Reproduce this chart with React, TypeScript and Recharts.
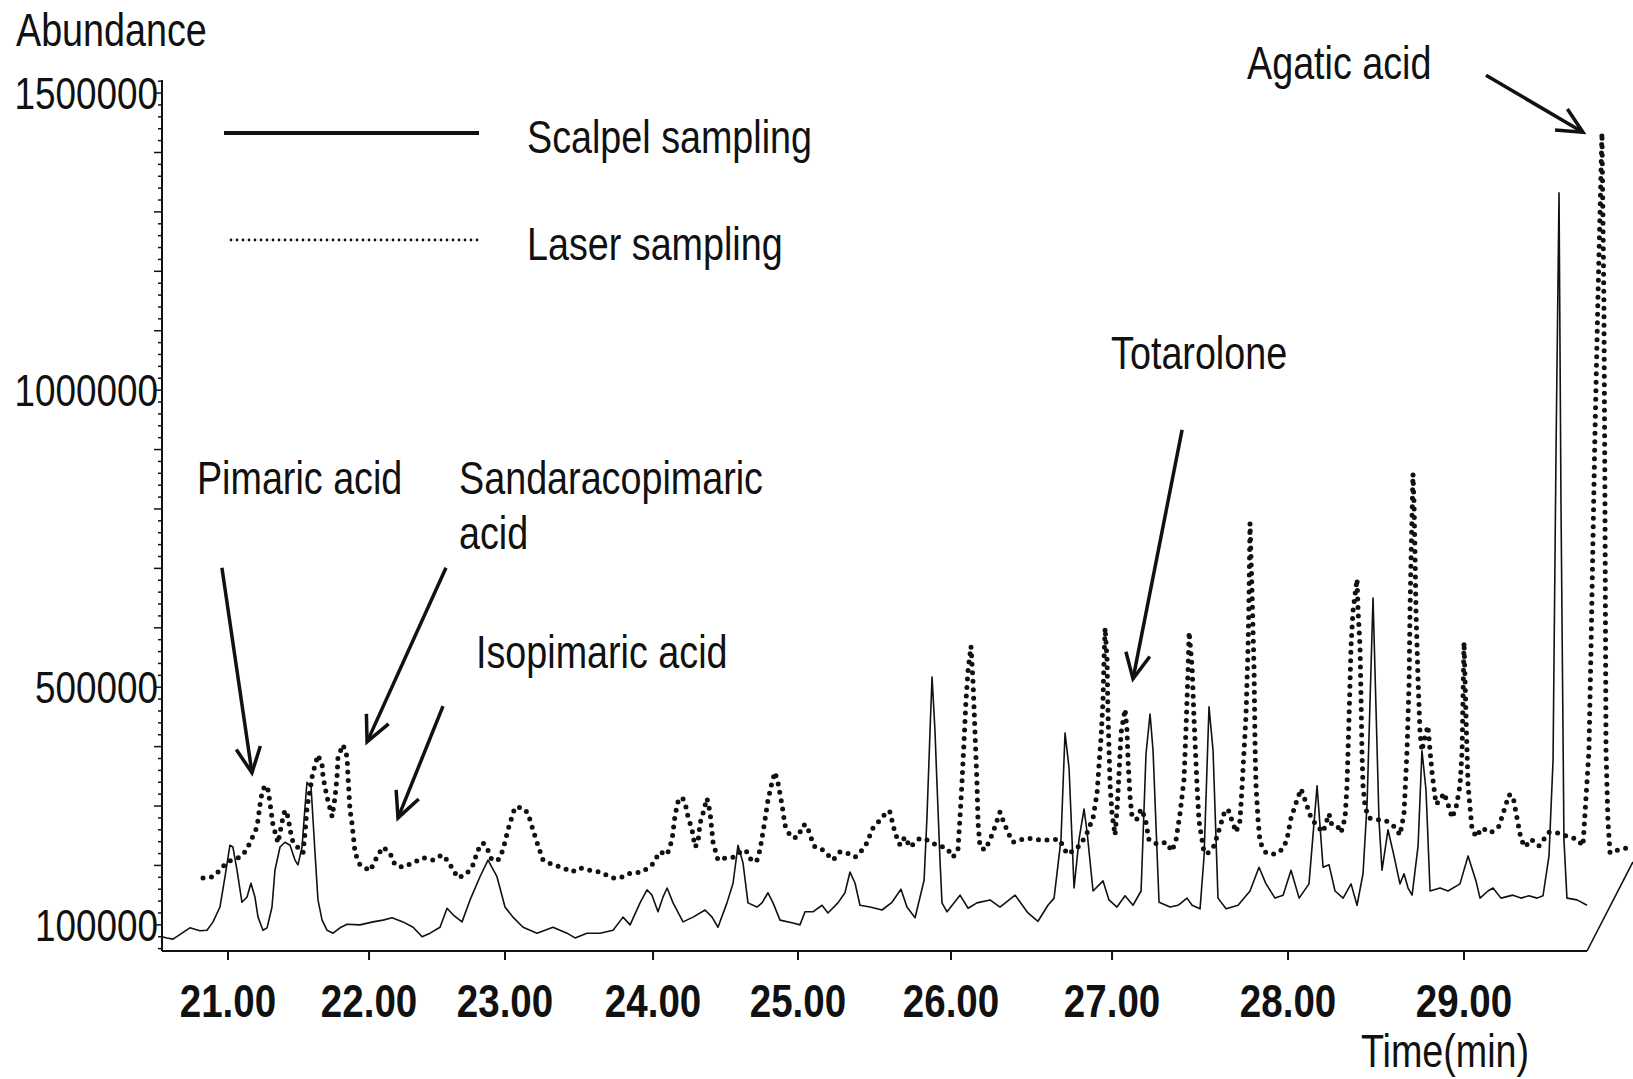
import React from "react";
import { LineChart, Line, XAxis, YAxis, ReferenceLine, ReferenceDot, Legend } from "recharts";

// Scalpel sampling (solid trace), time in min / abundance
const SCALPEL_TIME = [
  20.532, 20.567, 20.61, 20.674, 20.73, 20.801, 20.851, 20.894, 20.943, 20.979, 21.014, 21.035, 21.064, 21.099,
  21.135, 21.163, 21.191, 21.213, 21.248, 21.277, 21.312, 21.333, 21.369, 21.404, 21.44, 21.475, 21.496, 21.525,
  21.546, 21.56, 21.589, 21.617, 21.638, 21.667, 21.702, 21.745, 21.794, 21.844, 21.936, 22.029, 22.103, 22.169,
  22.25, 22.324, 22.39, 22.449, 22.522, 22.574, 22.618, 22.684, 22.743, 22.816, 22.875, 22.941, 23.0, 23.054,
  23.122, 23.216, 23.324, 23.419, 23.473, 23.554, 23.642, 23.73, 23.797, 23.845, 23.912, 23.959, 23.993, 24.034,
  24.069, 24.097, 24.138, 24.207, 24.276, 24.359, 24.407, 24.448, 24.51, 24.552, 24.586, 24.621, 24.655, 24.717,
  24.752, 24.793, 24.828, 24.876, 24.966, 25.013, 25.046, 25.098, 25.157, 25.196, 25.261, 25.307, 25.34, 25.373,
  25.405, 25.471, 25.549, 25.614, 25.673, 25.712, 25.765, 25.824, 25.843, 25.863, 25.876, 25.895, 25.908, 25.928,
  25.941, 25.974, 26.056, 26.106, 26.161, 26.242, 26.304, 26.398, 26.478, 26.54, 26.602, 26.64, 26.683, 26.708,
  26.733, 26.764, 26.795, 26.826, 26.845, 26.882, 26.944, 26.981, 27.028, 27.074, 27.119, 27.165, 27.193, 27.216,
  27.233, 27.267, 27.33, 27.375, 27.426, 27.455, 27.5, 27.523, 27.551, 27.574, 27.602, 27.648, 27.716, 27.784,
  27.835, 27.875, 27.926, 27.972, 28.017, 28.063, 28.119, 28.165, 28.199, 28.233, 28.267, 28.313, 28.358, 28.392,
  28.426, 28.449, 28.483, 28.517, 28.534, 28.568, 28.602, 28.636, 28.659, 28.682, 28.705, 28.739, 28.761, 28.784,
  28.807, 28.864, 28.909, 28.977, 29.023, 29.068, 29.091, 29.136, 29.165, 29.21, 29.278, 29.324, 29.369, 29.415,
  29.449, 29.483, 29.506, 29.523, 29.54, 29.551, 29.568, 29.585, 29.642, 29.699,
];
const SCALPEL_ABUNDANCE = [
  80000, 78000, 76000, 86000, 95000, 90000, 91000, 105000, 130000, 181000, 234000, 231000, 192000, 138000,
  147000, 170000, 147000, 113000, 91000, 95000, 130000, 192000, 231000, 239000, 234000, 209000, 201000, 231000,
  298000, 340000, 332000, 221000, 142000, 108000, 91000, 86000, 95000, 101000, 100000, 105000, 108000, 112000,
  105000, 96000, 80000, 86000, 96000, 128000, 117000, 105000, 142000, 181000, 209000, 181000, 130000, 113000,
  96000, 86000, 96000, 86000, 78000, 86000, 86000, 91000, 113000, 100000, 137000, 159000, 150000, 122000,
  147000, 162000, 137000, 105000, 113000, 125000, 113000, 96000, 137000, 170000, 234000, 204000, 137000, 130000,
  137000, 154000, 137000, 108000, 103000, 100000, 122000, 122000, 133000, 120000, 137000, 154000, 189000, 170000,
  133000, 130000, 125000, 138000, 160000, 130000, 112000, 175000, 282000, 428000, 517000, 428000, 339000, 209000,
  137000, 122000, 150000, 128000, 137000, 142000, 130000, 150000, 120000, 106000, 133000, 145000, 244000, 423000,
  364000, 162000, 244000, 295000, 256000, 157000, 174000, 142000, 130000, 149000, 133000, 157000, 388000, 455000,
  393000, 138000, 130000, 133000, 145000, 133000, 127000, 216000, 467000, 393000, 145000, 127000, 133000, 157000,
  197000, 169000, 145000, 150000, 192000, 145000, 169000, 334000, 197000, 201000, 157000, 145000, 169000, 133000,
  186000, 303000, 650000, 275000, 192000, 260000, 216000, 169000, 186000, 162000, 150000, 233000, 393000, 327000,
  157000, 162000, 157000, 169000, 216000, 174000, 145000, 157000, 162000, 145000, 150000, 145000, 149000, 145000,
  149000, 216000, 377000, 899000, 1332000, 815000, 243000, 145000, 142000, 133000,
];

// Laser sampling (dotted trace, drawn with its offset as printed)
const LASER_TIME = [
  20.823, 20.894, 20.943, 20.993, 21.085, 21.121, 21.156, 21.206, 21.227, 21.241, 21.262, 21.284, 21.298, 21.319,
  21.355, 21.383, 21.404, 21.426, 21.44, 21.461, 21.532, 21.546, 21.56, 21.582, 21.596, 21.617, 21.638, 21.667,
  21.674, 21.702, 21.738, 21.759, 21.773, 21.78, 21.816, 21.844, 21.851, 21.865, 21.879, 21.901, 21.936, 22.007,
  22.066, 22.103, 22.154, 22.191, 22.25, 22.338, 22.397, 22.471, 22.537, 22.574, 22.61, 22.654, 22.706, 22.757,
  22.801, 22.838, 22.868, 22.904, 22.949, 22.985, 23.02, 23.047, 23.068, 23.122, 23.155, 23.189, 23.216, 23.257,
  23.324, 23.392, 23.453, 23.507, 23.574, 23.642, 23.723, 23.777, 23.845, 23.926, 23.993, 24.048, 24.097, 24.131,
  24.152, 24.172, 24.2, 24.221, 24.241, 24.269, 24.29, 24.31, 24.324, 24.345, 24.372, 24.393, 24.414, 24.448,
  24.51, 24.566, 24.614, 24.648, 24.683, 24.717, 24.738, 24.772, 24.793, 24.821, 24.841, 24.862, 24.89, 24.91,
  24.931, 24.966, 25.0, 25.033, 25.059, 25.078, 25.111, 25.163, 25.229, 25.275, 25.32, 25.373, 25.438, 25.49,
  25.556, 25.582, 25.601, 25.634, 25.667, 25.699, 25.732, 25.797, 25.843, 25.908, 25.974, 26.012, 26.043, 26.056,
  26.068, 26.081, 26.093, 26.106, 26.124, 26.137, 26.149, 26.161, 26.168, 26.18, 26.211, 26.242, 26.273, 26.304,
  26.323, 26.354, 26.385, 26.429, 26.472, 26.553, 26.615, 26.671, 26.696, 26.721, 26.77, 26.807, 26.845, 26.882,
  26.907, 26.919, 26.932, 26.944, 26.95, 26.957, 26.969, 26.975, 26.988, 27.0, 27.017, 27.028, 27.04, 27.051,
  27.074, 27.085, 27.091, 27.102, 27.114, 27.142, 27.165, 27.188, 27.21, 27.256, 27.307, 27.341, 27.364, 27.386,
  27.409, 27.42, 27.432, 27.438, 27.455, 27.466, 27.483, 27.494, 27.523, 27.545, 27.58, 27.608, 27.636, 27.659,
  27.682, 27.705, 27.727, 27.739, 27.75, 27.761, 27.767, 27.773, 27.778, 27.784, 27.795, 27.807, 27.813, 27.818,
  27.83, 27.841, 27.875, 27.926, 27.972, 27.994, 28.017, 28.051, 28.074, 28.097, 28.131, 28.165, 28.199, 28.233,
  28.244, 28.278, 28.301, 28.324, 28.335, 28.347, 28.358, 28.369, 28.392, 28.398, 28.409, 28.415, 28.42, 28.426,
  28.438, 28.46, 28.494, 28.557, 28.591, 28.614, 28.636, 28.659, 28.676, 28.688, 28.693, 28.699, 28.71, 28.716,
  28.722, 28.727, 28.739, 28.75, 28.761, 28.773, 28.795, 28.807, 28.818, 28.841, 28.864, 28.886, 28.909, 28.932,
  28.955, 28.977, 28.989, 28.994, 29.0, 29.006, 29.011, 29.023, 29.045, 29.068, 29.102, 29.153, 29.199, 29.233,
  29.256, 29.278, 29.301, 29.324, 29.347, 29.381, 29.426, 29.483, 29.528, 29.642, 29.676, 29.71, 29.722, 29.733,
  29.744, 29.761, 29.784, 29.795, 29.801, 29.807, 29.818, 29.83, 29.852, 29.909, 29.96,
];
const LASER_ABUNDANCE = [
  179000, 181000, 192000, 206000, 214000, 223000, 238000, 265000, 302000, 322000, 335000, 327000, 305000, 268000,
  238000, 273000, 293000, 282000, 260000, 239000, 221000, 255000, 297000, 327000, 349000, 369000, 386000, 369000,
  349000, 315000, 282000, 315000, 349000, 383000, 403000, 383000, 349000, 293000, 271000, 221000, 201000, 191000,
  218000, 231000, 221000, 201000, 197000, 206000, 213000, 209000, 218000, 209000, 196000, 179000, 184000, 196000,
  226000, 238000, 229000, 209000, 209000, 226000, 260000, 282000, 298000, 297000, 288000, 260000, 239000, 209000,
  201000, 196000, 189000, 196000, 192000, 189000, 179000, 179000, 187000, 189000, 201000, 223000, 218000, 243000,
  285000, 307000, 315000, 305000, 282000, 260000, 231000, 238000, 271000, 288000, 313000, 290000, 239000, 209000,
  213000, 214000, 226000, 223000, 206000, 209000, 226000, 276000, 310000, 340000, 357000, 339000, 302000, 268000,
  256000, 246000, 248000, 268000, 268000, 251000, 231000, 226000, 209000, 223000, 221000, 214000, 231000, 263000,
  282000, 292000, 290000, 255000, 234000, 248000, 231000, 246000, 243000, 234000, 229000, 214000, 226000, 282000,
  339000, 411000, 478000, 529000, 569000, 507000, 423000, 339000, 271000, 231000, 226000, 243000, 265000, 290000,
  276000, 255000, 239000, 243000, 246000, 243000, 243000, 244000, 233000, 219000, 226000, 236000, 255000, 280000,
  322000, 369000, 416000, 478000, 546000, 600000, 546000, 452000, 334000, 287000, 251000, 292000, 357000, 423000,
  463000, 428000, 376000, 317000, 280000, 278000, 295000, 280000, 243000, 236000, 239000, 224000, 244000, 287000,
  345000, 428000, 529000, 593000, 534000, 445000, 334000, 275000, 221000, 221000, 233000, 260000, 287000, 295000,
  275000, 256000, 275000, 334000, 393000, 452000, 510000, 569000, 647000, 776000, 664000, 529000, 393000, 334000,
  275000, 239000, 221000, 219000, 228000, 244000, 280000, 310000, 329000, 310000, 280000, 266000, 256000, 287000,
  271000, 268000, 255000, 280000, 334000, 452000, 569000, 628000, 682000, 628000, 569000, 478000, 393000, 334000,
  298000, 280000, 278000, 275000, 268000, 263000, 251000, 287000, 393000, 510000, 628000, 717000, 859000, 807000,
  717000, 628000, 510000, 423000, 393000, 411000, 435000, 393000, 357000, 303000, 310000, 322000, 303000, 280000,
  298000, 334000, 393000, 478000, 576000, 510000, 452000, 334000, 263000, 248000, 263000, 255000, 266000, 298000,
  319000, 317000, 280000, 244000, 231000, 244000, 233000, 256000, 255000, 244000, 233000, 393000, 569000, 748000,
  924000, 1152000, 1433000, 1152000, 815000, 393000, 275000, 221000, 224000, 228000, 233000,
];

const X_TICKS = [21, 22, 23, 24, 25, 26, 27, 28, 29];
const Y_LABELS = [100000, 500000, 1000000, 1500000];
const Y_DOMAIN = [56000, 1522000];
const Y_MINOR_STEP = 20000;

// the printed time axis is unevenly stretched: where each time sits along the axis (0 = left end, 1 = right end)
const WARP_TIME = [20.532, 21, 22, 23, 24, 25, 26, 27, 28, 29, 29.699];
const WARP_POS = [0, 0.0463, 0.1453, 0.2407, 0.3446, 0.4463, 0.5537, 0.6667, 0.7902, 0.9137, 1];

const NOTES = [
  { lines: ["Pimaric acid"], t: 20.78, v: 852000 },
  { lines: ["Sandaracopimaric", "acid"], t: 22.662, v: 852000 },
  { lines: ["Isopimaric acid"], t: 22.787, v: 559000 },
  { lines: ["Totarolone"], t: 26.994, v: 1062000 },
  { lines: ["Agatic acid"], t: 27.767, v: 1551000 },
];
const ARROWS = [
  { from: [20.957, 701000], to: [21.17, 356000] },
  { from: [22.566, 701000], to: [21.986, 408000] },
  { from: [22.544, 468000], to: [22.213, 280000] },
  { from: [27.398, 933000], to: [27.119, 514000] },
  { from: [29.125, 1530000], to: [29.676, 1434000] },
];

const SERIES = [
  { key: "scalpel", name: "Scalpel sampling", width: 1.6, dash: undefined as string | undefined },
  { key: "laser", name: "Laser sampling", width: 5, dash: "0 8.5" },
];

const INK = "#111";
const FONT = "'Liberation Sans', Arial, sans-serif";
const NARROW = 0.82; // the print uses a condensed face

const scalpelData = SCALPEL_TIME.map((t, i) => ({ t, scalpel: SCALPEL_ABUNDANCE[i] }));
const laserData = LASER_TIME.map((t, i) => ({ t, laser: LASER_ABUNDANCE[i] }));
const yTicks = Array.from(
  { length: Math.floor((Y_DOMAIN[1] - 60000) / Y_MINOR_STEP) + 1 },
  (_, i) => 60000 + i * Y_MINOR_STEP
);

const makeWarpScale = (): any => {
  let dom = [WARP_TIME[0], WARP_TIME[WARP_TIME.length - 1]];
  let rng = [0, 1];
  const pos = (t: number) => {
    let i = 0;
    while (i < WARP_TIME.length - 2 && t > WARP_TIME[i + 1]) i++;
    const k = (t - WARP_TIME[i]) / (WARP_TIME[i + 1] - WARP_TIME[i]);
    return WARP_POS[i] + k * (WARP_POS[i + 1] - WARP_POS[i]);
  };
  const scale: any = (t: number) => rng[0] + pos(t) * (rng[1] - rng[0]);
  scale.domain = (d?: number[]) => {
    if (!d) return dom.slice();
    dom = d.slice();
    return scale;
  };
  scale.range = (r?: number[]) => {
    if (!r) return rng.slice();
    rng = r.slice();
    return scale;
  };
  scale.copy = () => makeWarpScale().domain(dom).range(rng);
  scale.ticks = () => X_TICKS.slice();
  scale.tickFormat = () => (v: number) => v.toFixed(2);
  return scale;
};

const Txt = ({ x, y, anchor = "start", size = 46, weight = 400, children }: any) => (
  <text
    transform={`translate(${x} ${y}) scale(${NARROW} 1)`}
    textAnchor={anchor}
    fontSize={size}
    fontWeight={weight}
    fontFamily={FONT}
    fill={INK}
  >
    {children}
  </text>
);

const YTick = ({ x, y, payload }: any) => {
  const v = payload.value;
  const major = v % 100000 === 0;
  return (
    <g>
      <line x1={x - (major ? 8 : 4)} x2={x} y1={y} y2={y} stroke={INK} strokeWidth={1.5} />
      {Y_LABELS.includes(v) && (
        <Txt x={x - 4} y={y + 16} anchor="end" size={45}>
          {v}
        </Txt>
      )}
    </g>
  );
};

const XTick = ({ x, y, payload }: any) => (
  <Txt x={x} y={y + 57} anchor="middle" size={47} weight={700}>
    {Number(payload.value).toFixed(2)}
  </Txt>
);

const Arrow = (p: any) => {
  const { x1, y1, x2, y2 } = p;
  const a = Math.atan2(y2 - y1, x2 - x1);
  const len = 28;
  const spread = 0.45;
  const h1 = `${x2 - len * Math.cos(a - spread)},${y2 - len * Math.sin(a - spread)}`;
  const h2 = `${x2 - len * Math.cos(a + spread)},${y2 - len * Math.sin(a + spread)}`;
  return (
    <g>
      <line x1={x1} y1={y1} x2={x2} y2={y2} stroke={INK} strokeWidth={3.5} />
      <polyline points={`${h1} ${x2},${y2} ${h2}`} fill="none" stroke={INK} strokeWidth={3.5} />
    </g>
  );
};

const noteShape = (lines: string[]) => (p: any) => (
  <Txt x={p.cx} y={p.cy + 16}>
    {lines.map((s, i) => (
      <tspan key={s} x={0} dy={i === 0 ? 0 : 55}>
        {s}
      </tspan>
    ))}
  </Txt>
);

const LegendBox = (props: any) => {
  const entries = props.payload || [];
  return (
    <svg width={700} height={170} style={{ display: "block", overflow: "visible" }}>
      {SERIES.map((s, i) => {
        const entry = entries.find((e: any) => e.value === s.name || e.dataKey === s.key);
        const y = 33 + i * 107;
        const dotted = !!s.dash;
        return (
          <g key={s.key}>
            <line
              x1={dotted ? 7 : 0}
              x2={dotted ? 257 : 255}
              y1={y}
              y2={y}
              stroke={INK}
              strokeWidth={dotted ? 2.8 : 4}
              strokeDasharray={dotted ? "0 6" : undefined}
              strokeLinecap={dotted ? "round" : "butt"}
            />
            <Txt x={303} y={y + 20}>
              {entry ? entry.value : s.name}
            </Txt>
          </g>
        );
      })}
    </svg>
  );
};

export default function App() {
  return (
    <div style={{ position: "absolute", left: 0, top: 0, width: 1633, height: 1079, background: "#fff" }}>
      <LineChart width={1633} height={1079} margin={{ top: 80, right: 46, bottom: 68, left: 12 }}>
        <XAxis
          dataKey="t"
          type="number"
          domain={[WARP_TIME[0], WARP_TIME[WARP_TIME.length - 1]]}
          scale={makeWarpScale()}
          ticks={X_TICKS}
          interval={0}
          height={60}
          tickSize={9}
          tickMargin={0}
          tick={<XTick />}
          axisLine={{ stroke: INK, strokeWidth: 2 }}
          tickLine={{ stroke: INK, strokeWidth: 2 }}
          label={(p: any) => {
            const vb = p.viewBox || {};
            return (
              <Txt x={vb.x + vb.width - 142} y={vb.y + 116} anchor="middle">
                Time(min)
              </Txt>
            );
          }}
        />
        <YAxis
          type="number"
          domain={Y_DOMAIN}
          ticks={yTicks}
          interval={0}
          width={150}
          tickSize={0}
          tickMargin={0}
          tickLine={false}
          tick={<YTick />}
          axisLine={{ stroke: INK, strokeWidth: 2 }}
          label={(p: any) => {
            const vb = p.viewBox || {};
            return (
              <Txt x={vb.x + 4} y={vb.y - 34}>
                Abundance
              </Txt>
            );
          }}
        />
        <Legend
          layout="vertical"
          align="center"
          verticalAlign="middle"
          content={<LegendBox />}
          wrapperStyle={{ left: 224, top: 100, width: 700, height: 170 }}
        />
        <Line
          data={scalpelData}
          dataKey="scalpel"
          name={SERIES[0].name}
          type="linear"
          stroke={INK}
          strokeWidth={SERIES[0].width}
          strokeLinejoin="round"
          dot={false}
          activeDot={false}
          isAnimationActive={false}
        />
        <Line
          data={laserData}
          dataKey="laser"
          name={SERIES[1].name}
          type="linear"
          stroke={INK}
          strokeWidth={SERIES[1].width}
          strokeDasharray={SERIES[1].dash}
          strokeLinecap="round"
          dot={false}
          activeDot={false}
          isAnimationActive={false}
        />
        <ReferenceLine
          segment={[
            { x: WARP_TIME[WARP_TIME.length - 1], y: Y_DOMAIN[0] },
            { x: 29.96, y: 206000 },
          ]}
          ifOverflow="visible"
          stroke={INK}
          strokeWidth={1.6}
        />
        {ARROWS.map((a, i) => (
          <ReferenceLine
            key={`arrow-${i}`}
            segment={[
              { x: a.from[0], y: a.from[1] },
              { x: a.to[0], y: a.to[1] },
            ]}
            ifOverflow="visible"
            shape={Arrow}
          />
        ))}
        {NOTES.map((n) => (
          <ReferenceDot
            key={n.lines.join(" ")}
            x={n.t}
            y={n.v}
            r={0}
            ifOverflow="visible"
            shape={noteShape(n.lines)}
          />
        ))}
      </LineChart>
    </div>
  );
}
